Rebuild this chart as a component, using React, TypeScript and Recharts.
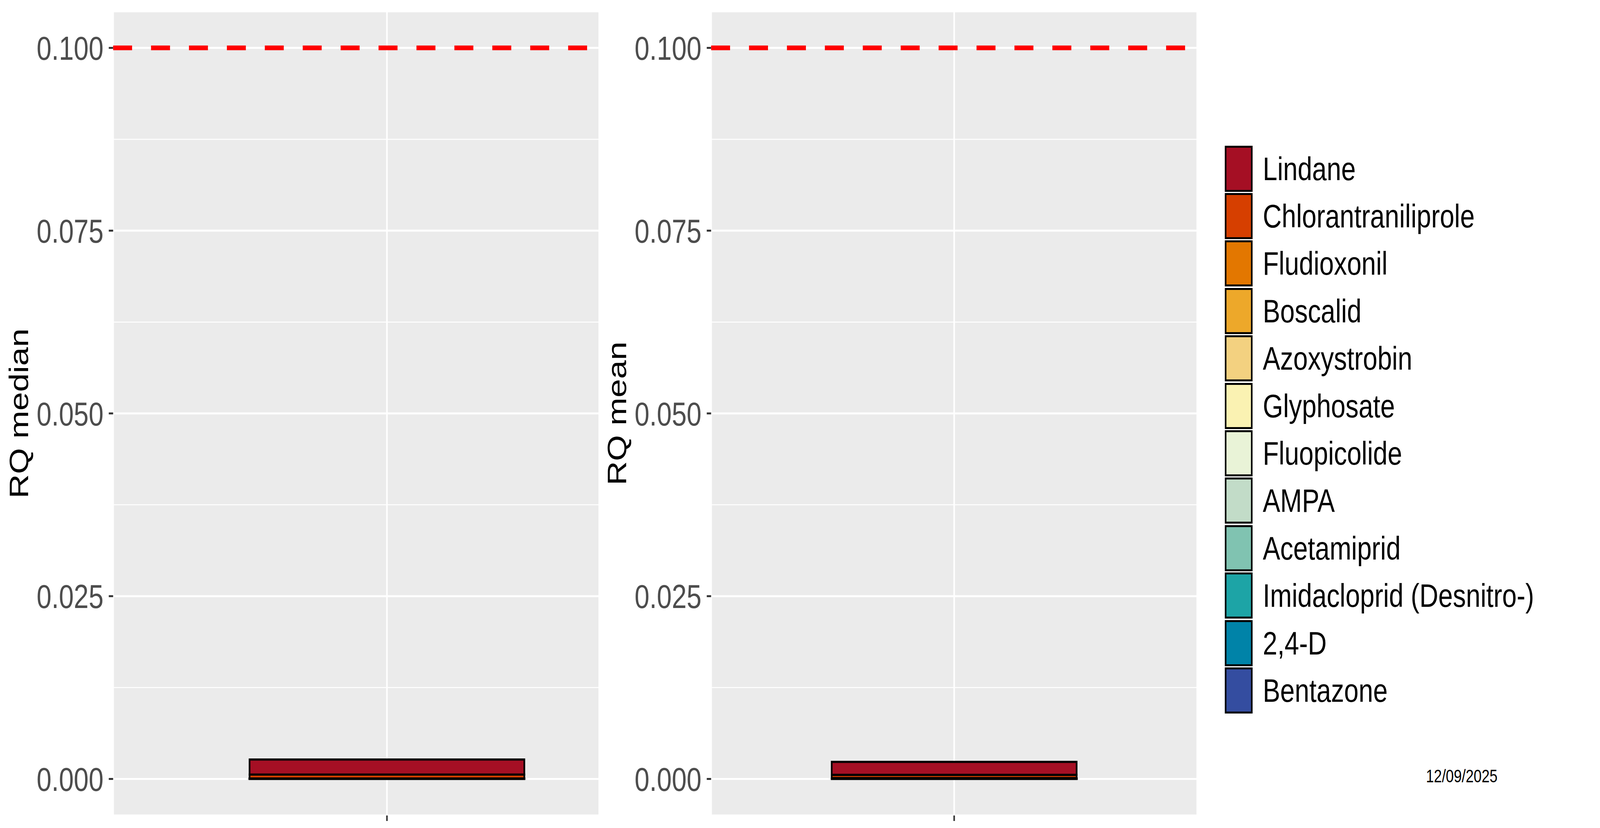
import React from 'react';
import {
  BarChart,
  Bar,
  XAxis,
  YAxis,
  CartesianGrid,
  ReferenceLine,
} from 'recharts';

const FONT = '"Liberation Sans", Arial, sans-serif';
const PAGE_W = 5148;
const PAGE_H = 2119;

const compounds = [
  'Lindane',
  'Chlorantraniliprole',
  'Fludioxonil',
  'Boscalid',
  'Azoxystrobin',
  'Glyphosate',
  'Fluopicolide',
  'AMPA',
  'Acetamiprid',
  'Imidacloprid (Desnitro-)',
  '2,4-D',
  'Bentazone',
];

const compoundColors = [
  '#A50F24',
  '#D63F00',
  '#E37700',
  '#EDA82A',
  '#F3D180',
  '#FAF2B2',
  '#E9F3D7',
  '#C2DCC8',
  '#80C3B1',
  '#1DA4A6',
  '#0083A8',
  '#344DA0',
];

// RQ per compound, same order as compounds
const rqMedian = [0.00206, 0.00054, 0.00001, 0.00001, 0.000005, 0.000005, 0.000005, 0.000005, 0.000005, 0.000005, 0.000005, 0.000005];
const rqMean = [0.00177, 0.00045, 0.00004, 0.00002, 0.00001, 0.00001, 0.00001, 0.000005, 0.000005, 0.000005, 0.000005, 0.000005];

const yTicks = [0, 0.025, 0.05, 0.075, 0.1];
const yMinorTicks = [0.0125, 0.0375, 0.0625, 0.0875];
const yDomain = [-0.005, 0.105];
const threshold = 0.1;
const dateLabel = '12/09/2025';

const buildRow = (values: number[]) => {
  const row: Record<string, any> = { group: 'all' };
  compounds.forEach((c, i) => {
    row[c] = values[i];
  });
  return [row];
};

const Panel = ({ values, title, left, xPadding, barSize }: any) => {
  const data = buildRow(values);
  // ggplot stacks the first level on top, recharts the first series at the bottom
  const order = compounds.map((_, i) => i).reverse();
  return (
    <div style={{ position: 'absolute', left, top: 0 }}>
      <BarChart
        width={1928}
        height={PAGE_H}
        data={data}
        margin={{ top: 29, right: 0, bottom: 0, left: 0 }}
      >
        <CartesianGrid fill="#EBEBEB" stroke="#FFFFFF" strokeWidth={5} />
        {yMinorTicks.map((v) => (
          <ReferenceLine key={v} y={v} stroke="#FFFFFF" strokeWidth={2.5} />
        ))}
        <XAxis
          dataKey="group"
          height={32}
          padding={xPadding}
          axisLine={false}
          tickSize={14}
          tickLine={{ stroke: '#333333', strokeWidth: 5 }}
          tickFormatter={() => ''}
        />
        <YAxis
          width={364}
          domain={yDomain}
          ticks={yTicks}
          allowDataOverflow
          axisLine={false}
          tickSize={14}
          tickMargin={17}
          tickLine={{ stroke: '#333333', strokeWidth: 5 }}
          tick={{ fontSize: 86, fill: '#4D4D4D', fontFamily: FONT }}
          tickFormatter={(v: number) => v.toFixed(3)}
          label={{
            value: title,
            content: ({ viewBox, value }: any) => {
              const x = viewBox.x + 91;
              const y = viewBox.y + viewBox.height / 2;
              return (
                <text
                  x={x}
                  y={y}
                  transform={`rotate(-90, ${x}, ${y})`}
                  textAnchor="middle"
                  fontSize={86}
                  fontFamily={FONT}
                  fill="#000000"
                >
                  {value}
                </text>
              );
            },
          }}
        />
        <ReferenceLine
          y={threshold}
          stroke="#FF0000"
          strokeWidth={12}
          strokeDasharray="61 61"
        />
        {order.map((i) => (
          <Bar
            key={compounds[i]}
            dataKey={compounds[i]}
            stackId="rq"
            fill={compoundColors[i]}
            stroke="#000000"
            strokeWidth={5.5}
            barSize={barSize}
            isAnimationActive={false}
          />
        ))}
      </BarChart>
    </div>
  );
};

const LegendBox = () => (
  <div style={{ position: 'absolute', left: 3941, top: 371 }}>
    {compounds.map((c, i) => (
      <div key={c} style={{ display: 'flex', alignItems: 'center', height: 121.4 }}>
        <div
          style={{
            boxSizing: 'border-box',
            width: 89,
            height: 118,
            background: compoundColors[i],
            border: '5px solid #000000',
          }}
        />
        <span
          style={{
            marginLeft: 33,
            fontSize: 84,
            fontFamily: FONT,
            color: '#000000',
            whiteSpace: 'nowrap',
            lineHeight: 1,
          }}
        >
          {c}
        </span>
      </div>
    ))}
  </div>
);

export default function App() {
  // the real CSS viewport can differ from 5148x2119, so stretch the layout onto it
  const hasWin = typeof window !== 'undefined';
  const vw = hasWin && window.innerWidth ? window.innerWidth : PAGE_W;
  const vh = hasWin && window.innerHeight ? window.innerHeight : PAGE_H;
  const sx = vw / PAGE_W;
  const sy = vh / PAGE_H;
  return (
    <div
      style={{
        position: 'absolute',
        left: 0,
        top: 0,
        width: PAGE_W * sx,
        height: PAGE_H * sy,
        overflow: 'hidden',
        background: '#FFFFFF',
      }}
    >
      <div
        style={{
          position: 'absolute',
          left: 0,
          top: 0,
          width: PAGE_W,
          height: PAGE_H,
          transform: `scale(${sx}, ${sy})`,
          transformOrigin: '0 0',
          background: '#FFFFFF',
        }}
      >
        <Panel values={rqMedian} title="RQ median" left={0} xPadding={{ left: 198, right: 0 }} barSize={884} />
        <Panel values={rqMean} title="RQ mean" left={1924} xPadding={{ left: 0, right: 0 }} barSize={788} />
        <LegendBox />
        <div
          style={{
            position: 'absolute',
            left: 4588,
            top: 1963,
            fontSize: 46,
            fontFamily: FONT,
            color: '#000000',
            lineHeight: 1,
          }}
        >
          {dateLabel}
        </div>
      </div>
    </div>
  );
}
